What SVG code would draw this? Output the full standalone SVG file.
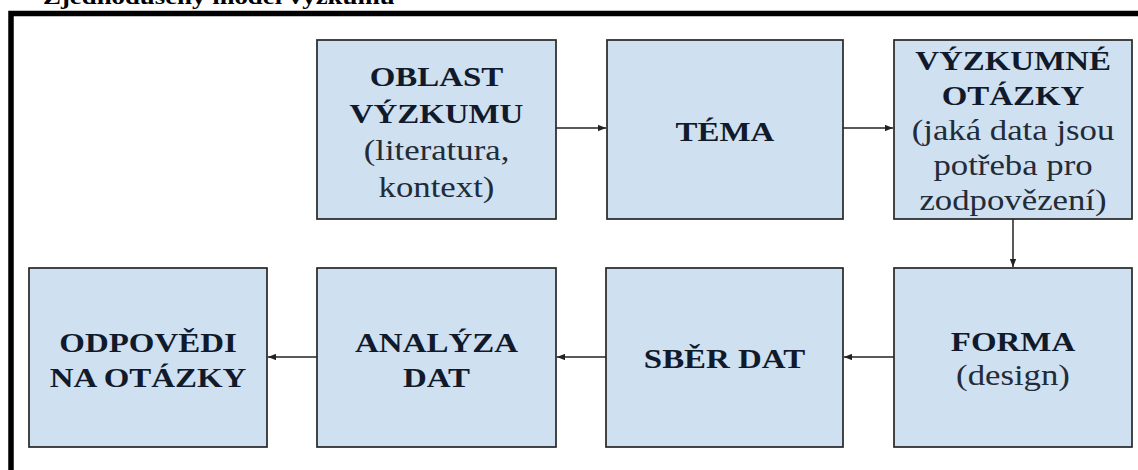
<svg xmlns="http://www.w3.org/2000/svg" width="1138" height="470" viewBox="0 0 1138 470">
<defs>
<style>
.box{fill:#cfe0f1;stroke:#262626;stroke-width:1.7}
.b{font-family:"Liberation Serif","Times New Roman",serif;font-weight:bold;font-size:27px;fill:#111a2a;text-anchor:middle}
.r{font-family:"Liberation Serif","Times New Roman",serif;font-size:28.5px;fill:#222b38;text-anchor:middle}
.title{font-family:"Liberation Serif","Times New Roman",serif;font-weight:bold;font-size:22px;fill:#000}
.con{stroke:#222;stroke-width:1.5;fill:none;marker-end:url(#ah)}
</style>
<marker id="ah" viewBox="0 0 10 8" refX="10" refY="4" markerWidth="8" markerHeight="6.4" markerUnits="userSpaceOnUse" orient="auto">
<path d="M0,0 L10,4 L0,8 z" fill="#222"/>
</marker>
</defs>
<rect width="1138" height="470" fill="#fff"/>
<text class="title" transform="translate(43,0) scale(1.22,1)" x="0" y="4">Zjednodušený model výzkumu</text>
<path d="M11 470 V13.5 H1138" fill="none" stroke="#000" stroke-width="5.5"/>
<g id="connectors">
<line class="con" x1="556" y1="128" x2="606" y2="128"/>
<line class="con" x1="843" y1="128" x2="893" y2="128"/>
<line class="con" x1="1013" y1="219" x2="1013" y2="267"/>
<line class="con" x1="894" y1="357" x2="844" y2="357"/>
<line class="con" x1="606" y1="357" x2="557" y2="357"/>
<line class="con" x1="317" y1="357" x2="268" y2="357"/>
</g>
<g id="oblast">
<rect class="box" x="317" y="40" width="239" height="179"/>
<g transform="translate(436.5,0) scale(1.22,1)">
<text class="b" x="0" y="86">OBLAST</text>
<text class="b" x="0" y="123">VÝZKUMU</text>
<text class="r" x="0" y="160">(literatura,</text>
<text class="r" x="0" y="197">kontext)</text>
</g>
</g>
<g id="tema">
<rect class="box" x="607" y="40" width="236" height="179"/>
<g transform="translate(725,0) scale(1.22,1)">
<text class="b" x="0" y="141">TÉMA</text>
</g>
</g>
<g id="otazky">
<rect class="box" x="894" y="40" width="238" height="179"/>
<g transform="translate(1013,0) scale(1.22,1)">
<text class="b" x="0" y="70">VÝZKUMNÉ</text>
<text class="b" x="0" y="105">OTÁZKY</text>
<text class="r" x="0" y="140">(jaká data jsou</text>
<text class="r" x="0" y="175">potřeba pro</text>
<text class="r" x="0" y="210">zodpovězení)</text>
</g>
</g>
<g id="forma">
<rect class="box" x="894" y="268" width="238" height="179"/>
<g transform="translate(1013,0) scale(1.22,1)">
<text class="b" x="0" y="351">FORMA</text>
<text class="r" x="0" y="385">(design)</text>
</g>
</g>
<g id="sber">
<rect class="box" x="606" y="268" width="237" height="179"/>
<g transform="translate(724.5,0) scale(1.22,1)">
<text class="b" x="0" y="368">SBĚR DAT</text>
</g>
</g>
<g id="analyza">
<rect class="box" x="317" y="268" width="239" height="179"/>
<g transform="translate(436.5,0) scale(1.22,1)">
<text class="b" x="0" y="352">ANALÝZA</text>
<text class="b" x="0" y="387">DAT</text>
</g>
</g>
<g id="odpovedi">
<rect class="box" x="29" y="268" width="238" height="179"/>
<g transform="translate(148,0) scale(1.22,1)">
<text class="b" x="0" y="352">ODPOVĚDI</text>
<text class="b" x="0" y="387">NA OTÁZKY</text>
</g>
</g>
</svg>
